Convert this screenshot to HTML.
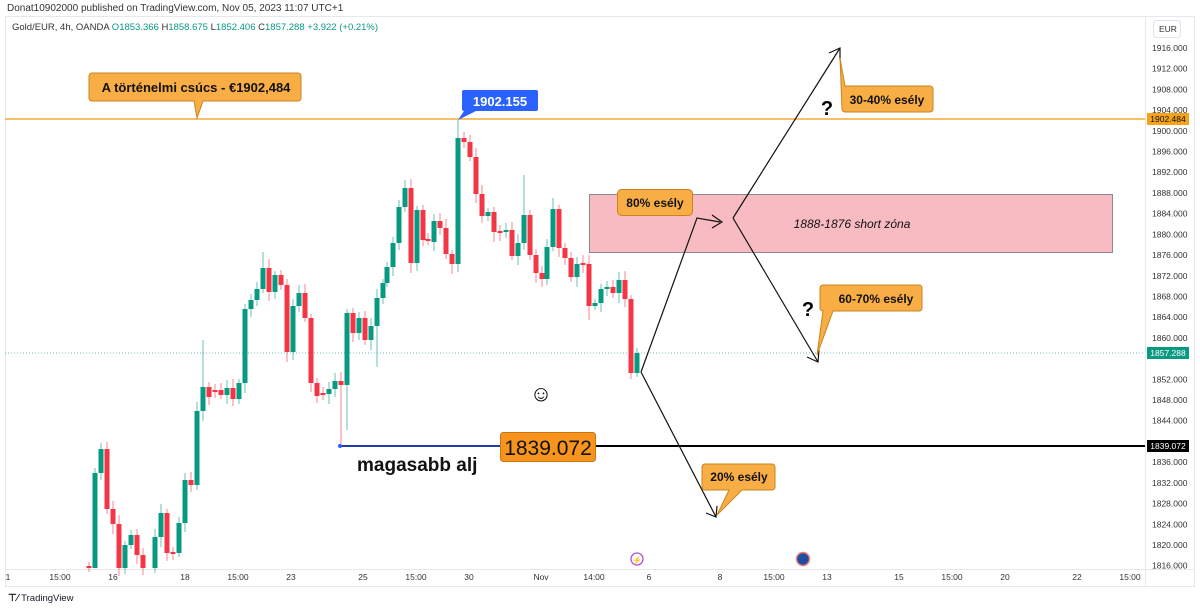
<!DOCTYPE html>
<html><head><meta charset="utf-8"><style>
body{margin:0;width:1200px;height:609px;background:#fff;overflow:hidden;font-family:"Liberation Sans",sans-serif}
svg{position:absolute;left:0;top:0}
.lb{font-weight:600}
</style></head><body>
<svg id="s" width="1200" height="609" xmlns="http://www.w3.org/2000/svg" font-family="Liberation Sans, sans-serif">
<text x="7" y="11" font-size="10" fill="#333">Donat10902000 published on TradingView.com, Nov 05, 2023 11:07 UTC+1</text>
<rect x="5.5" y="16.5" width="1189" height="570" fill="none" stroke="#e6e8ee"/>
<line x1="1145.5" y1="17" x2="1145.5" y2="586" stroke="#e6e8ee"/>
<line x1="5" y1="569.5" x2="1194" y2="569.5" stroke="#e6e8ee"/>
<text x="12" y="30" font-size="9.5" fill="#333">Gold/EUR, 4h, OANDA <tspan fill="#089981">O</tspan><tspan fill="#089981">1853.366</tspan> H<tspan fill="#089981">1858.675</tspan> L<tspan fill="#089981">1852.406</tspan> C<tspan fill="#089981">1857.288</tspan> <tspan fill="#089981">+3.922 (+0.21%)</tspan></text>
<rect x="1153.5" y="20.5" width="27" height="17" rx="3" fill="#fff" stroke="#e0e3eb"/>
<text x="1159" y="32" font-size="8.5" fill="#333">EUR</text>
<g id="yax" font-size="8.5" fill="#333"></g>
<g id="xax" font-size="8.5" fill="#333" text-anchor="middle"></g>
<line x1="5" y1="353" x2="1145" y2="353" stroke="#089981" stroke-dasharray="1,2" opacity="0.6"/>
<rect x="589.5" y="194.5" width="523" height="58" fill="#f8bbc2" stroke="#8a8a8a"/>
<text x="852" y="228" font-size="12" font-style="italic" text-anchor="middle" fill="#111">1888-1876 short zóna</text>
<g id="c"></g>
<line x1="5" y1="119" x2="1145" y2="119" stroke="#f7a833" stroke-width="1.5"/>
<line x1="340" y1="446" x2="1145" y2="446" stroke="#000" stroke-width="2"/>
<line x1="340" y1="446" x2="500" y2="446" stroke="#1e3ea8" stroke-width="2"/>
<circle cx="340" cy="446" r="2" fill="#2962ff"/>
<g stroke="#111" stroke-width="1.2" fill="none">
<polyline points="641,372 697,218 720,222"/><polyline points="712,215 722,222 712,228"/>
<polyline points="733,218 840,48"/><polyline points="829,53 840,48 840,60"/>
<polyline points="733,218 818,362"/><polyline points="807,357 818,362 819,350"/>
<polyline points="641,372 716,517"/><polyline points="706,513 716,517 717,506"/>
</g>
<path d="M92,73 h206 a3,3 0 0 1 3,3 v22 a3,3 0 0 1 -3,3 h-95 l-6,17 l-3,-17 h-102 a3,3 0 0 1 -3,-3 v-22 a3,3 0 0 1 3,-3z" fill="#f9ae45" stroke="#c8841f"/>
<text class="lb" x="196" y="92" font-size="13" text-anchor="middle" fill="#111">A történelmi csúcs - €1902,484</text>
<path d="M464,90 h72 a2,2 0 0 1 2,2 v17 a2,2 0 0 1 -2,2 h-60 l-18,9 l6,-9 h-0 a2,2 0 0 1 -2,-2 v-17 a2,2 0 0 1 2,-2z" fill="#2962ff"/>
<text x="500" y="106" font-size="13" font-weight="bold" text-anchor="middle" fill="#fff">1902.155</text>
<rect x="617.5" y="189.5" width="75" height="26" rx="4" fill="#f9ae45" stroke="#c8841f"/>
<text class="lb" x="655" y="207" font-size="12" text-anchor="middle" fill="#111">80% esély</text>
<path d="M845,86 h85 a3,3 0 0 1 3,3 v20 a3,3 0 0 1 -3,3 h-85 a3,3 0 0 1 -3,-3 l-2,-51 l5,28z" fill="#f9ae45" stroke="#c8841f"/>
<text class="lb" x="887" y="104" font-size="12" text-anchor="middle" fill="#111">30-40% esély</text>
<path d="M833,285 h86 a3,3 0 0 1 3,3 v20 a3,3 0 0 1 -3,3 h-86 l-16,44 l6,-44 a3,3 0 0 1 -3,-3 v-20 a3,3 0 0 1 3,-3z" fill="#f9ae45" stroke="#c8841f"/>
<text class="lb" x="876" y="303" font-size="12" text-anchor="middle" fill="#111">60-70% esély</text>
<path d="M705,464 h67 a3,3 0 0 1 3,3 v20 a3,3 0 0 1 -3,3 h-30 l-25,25 l12,-25 h-24 a3,3 0 0 1 -3,-3 v-20 a3,3 0 0 1 3,-3z" fill="#f9ae45" stroke="#c8841f"/>
<text class="lb" x="739" y="481" font-size="12" text-anchor="middle" fill="#111">20% esély</text>
<text x="827" y="115" font-size="20" font-weight="bold" text-anchor="middle">?</text>
<text x="808" y="316" font-size="20" font-weight="bold" text-anchor="middle">?</text>
<text x="541" y="401" font-size="22" text-anchor="middle">☺</text>
<rect x="500.5" y="432.5" width="95" height="29" rx="3" fill="#f7941d" stroke="#c87410"/>
<text x="548" y="455" font-size="21" text-anchor="middle" fill="#111">1839.072</text>
<text x="357" y="471" font-size="19" font-weight="bold" fill="#111">magasabb alj</text>
<rect x="1147" y="113" width="42" height="12" fill="#f7a21b"/><text x="1168" y="122" font-size="8.5" text-anchor="middle" fill="#111">1902.484</text>
<rect x="1147" y="347" width="42" height="12" fill="#089981"/><text x="1168" y="356" font-size="8.5" text-anchor="middle" fill="#fff">1857.288</text>
<rect x="1147" y="440" width="42" height="12" fill="#000"/><text x="1168" y="449" font-size="8.5" text-anchor="middle" fill="#fff">1839.072</text>
<circle cx="637" cy="559" r="6" fill="#fff" stroke="#b44fd0" stroke-width="1.3"/><text x="637" y="563" font-size="8" text-anchor="middle" fill="#b44fd0">⚡</text>
<circle cx="803" cy="559" r="6.5" fill="#1f4fa0" stroke="#f08080" stroke-width="1.5"/>
<text x="8" y="601" font-size="10" font-weight="bold" fill="#131722">⊤⁄ <tspan font-weight="normal" font-size="9.5">TradingView</tspan></text>
</svg>
<script>
const NS="http://www.w3.org/2000/svg",s=id=>document.getElementById(id);
function el(p,t,a,txt){const e=document.createElementNS(NS,t);for(const k in a)e.setAttribute(k,a[k]);if(txt)e.textContent=txt;p.appendChild(e);return e;}
const ya=s("yax");
for(let p=1916;p>=1816;p-=4){const y=48+(1916-p)*5.177;if(Math.abs(y-119)<8||Math.abs(y-353)<8||Math.abs(y-446)<8)continue;el(ya,"text",{x:1152,y:y+3},p.toFixed(3));}
const xl=[[8,"1"],[60,"15:00"],[113,"16"],[185,"18"],[238,"15:00"],[291,"23"],[363,"25"],[416,"15:00"],[469,"30"],[541,"Nov"],[594,"14:00"],[649,"6"],[720,"8"],[774,"15:00"],[827,"13"],[899,"15"],[952,"15:00"],[1005,"20"],[1077,"22"],[1130,"15:00"]];
xl.forEach(([x,t])=>el(s("xax"),"text",{x:x,y:580},t));
const C=[[89,566,568],[95,568,473],[101,473,449],[107,449,509],[113,509,524],[119,524,568],[125,568,545],[131,545,535],[137,535,555],[143,555,568],[155,568,537],[161,537,513],[167,513,553],[173,552,554],[179,553,523],[185,523,480],[191,480,485],[197,485,411],[203,411,387],[209,387,397],[215,390,392],[221,390,395],[227,395,388],[233,388,399],[239,399,383],[245,383,309],[251,309,300],[257,300,289],[263,289,268],[269,268,292],[275,292,275],[281,275,285],[287,285,352],[293,352,306],[299,306,293],[305,293,318],[311,318,383],[317,383,396],[323,393,395],[329,394,389],[335,389,381],[341,381,385],[347,385,313],[353,313,333],[359,333,318],[365,318,340],[371,340,326],[377,326,298],[383,298,283],[387,283,267],[393,267,243],[399,243,207],[405,207,188],[411,188,263],[417,263,210],[423,210,240],[428,239,241],[434,242,221],[440,221,228],[446,228,254],[452,254,264],[458,264,138],[464,138,142],[470,142,157],[476,157,194],[482,194,216],[488,216,212],[494,212,232],[500,231,233],[506,232,230],[512,230,256],[518,256,243],[524,243,215],[530,215,255],[536,255,273],[542,273,279],[547,279,247],[553,247,209],[559,209,248],[565,248,258],[571,258,277],[577,277,264],[583,263,265],[589,264,306],[595,306,303],[601,303,289],[607,289,287],[613,287,293],[619,293,280],[625,280,299],[631,299,373],[637,373,353]];
const g=s("c");const wick={341:446,458:120,524:175,95:568,377:367,203:340,263:252,287:362,347:430,553:198,476:148,589:320};
C.forEach(([x,o,c],i)=>{const up=c<o,col=up?"#089981":"#f23645";const t=Math.min(o,c),b=Math.max(o,c);
let hi=t-4-(i*7%6),lo=b+4+(i*5%7);if(wick[x]){if(wick[x]<t)hi=wick[x];else lo=wick[x];}
el(g,"line",{x1:x,x2:x,y1:hi,y2:lo,stroke:col,"stroke-opacity":0.6});
el(g,"rect",{x:x-2.5,y:t,width:5,height:Math.max(1,b-t),fill:col});});
</script>
</body></html>
